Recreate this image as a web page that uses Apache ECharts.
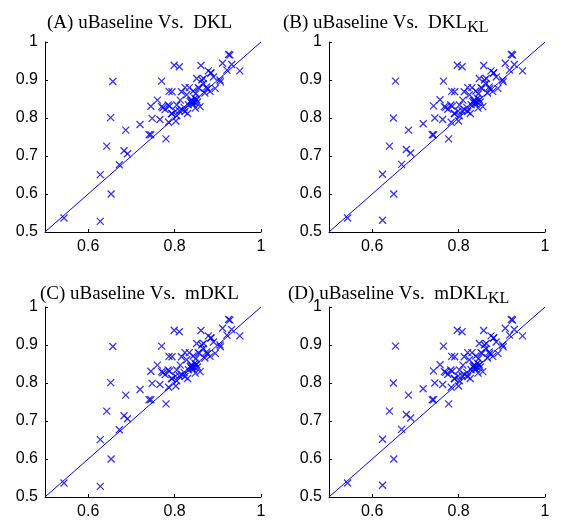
<!DOCTYPE html>
<html>
<head>
<meta charset="utf-8">
<script src="https://cdn.jsdelivr.net/npm/echarts@6/dist/echarts.min.js"></script>
<style>html,body{margin:0;padding:0;background:#fff}#c{width:566px;height:520px}</style>
</head>
<body>
<div id="c"></div>
<script>
// Panel titles
const titles = [
  {main: '(A) uBaseline Vs.  DKL', sub: ''},
  {main: '(B) uBaseline Vs.  DKL', sub: 'KL'},
  {main: '(C) uBaseline Vs.  mDKL', sub: ''},
  {main: '(D) uBaseline Vs.  mDKL', sub: 'KL'}
];
// Axis ticks
const xTicks = [0.6, 0.8, 1.0];
const yTicks = [0.5, 0.6, 0.7, 0.8, 0.9, 1.0];
// Identity line
const diagonal = [[0.5, 0.5], [1.0, 1.0]];

// Scatter values (x = uBaseline, y = compared method)
const pointsA = [
  [0.544,0.537],[0.628,0.528],[0.628,0.651],[0.653,0.600],[0.643,0.726],[0.652,0.801],[0.657,0.896],
  [0.672,0.677],[0.683,0.714],[0.691,0.706],[0.687,0.768],[0.720,0.783],[0.741,0.756],[0.745,0.756],
  [0.780,0.745],[0.748,0.799],[0.745,0.831],[0.760,0.847],[0.770,0.897],[0.766,0.796],[0.773,0.827],
  [0.778,0.822],[0.788,0.831],[0.786,0.789],[0.794,0.811],[0.803,0.792],[0.787,0.870],[0.794,0.869],
  [0.799,0.939],[0.811,0.935],[0.805,0.806],[0.811,0.819],[0.813,0.847],[0.816,0.869],[0.824,0.880],
  [0.834,0.880],[0.828,0.861],[0.805,0.834],[0.785,0.834],[0.770,0.830],[0.793,0.812],[0.802,0.818],
  [0.830,0.812],[0.824,0.817],[0.836,0.843],[0.840,0.839],[0.843,0.836],[0.838,0.846],[0.845,0.842],
  [0.832,0.835],[0.843,0.871],[0.847,0.852],[0.851,0.848],[0.859,0.830],[0.853,0.842],[0.848,0.826],
  [0.851,0.904],[0.863,0.900],[0.874,0.882],[0.857,0.878],[0.894,0.878],[0.905,0.900],[0.861,0.938],
  [0.878,0.924],[0.884,0.918],[0.911,0.944],[0.921,0.926],[0.932,0.941],[0.928,0.966],[0.925,0.967],
  [0.951,0.924],[0.870,0.866],[0.882,0.870],[0.822,0.828],[0.906,0.895],[0.890,0.908],[0.866,0.890],
  [0.875,0.877],[0.849,0.864],[0.855,0.880],[0.867,0.904],[0.884,0.919],[0.817,0.822],[0.841,0.845]
];
const pointsB = [
  [0.543,0.537],[0.624,0.531],[0.624,0.652],[0.650,0.600],[0.640,0.726],[0.649,0.800],[0.654,0.897],
  [0.668,0.678],[0.679,0.717],[0.689,0.708],[0.684,0.768],[0.718,0.785],[0.739,0.756],[0.742,0.756],
  [0.777,0.745],[0.745,0.800],[0.742,0.832],[0.757,0.848],[0.765,0.897],[0.763,0.796],[0.770,0.828],
  [0.775,0.823],[0.785,0.831],[0.783,0.789],[0.791,0.811],[0.800,0.792],[0.784,0.870],[0.791,0.869],
  [0.797,0.939],[0.808,0.935],[0.802,0.806],[0.808,0.819],[0.810,0.847],[0.813,0.869],[0.821,0.880],
  [0.831,0.880],[0.825,0.861],[0.802,0.834],[0.782,0.834],[0.767,0.830],[0.790,0.812],[0.799,0.818],
  [0.827,0.812],[0.821,0.817],[0.833,0.843],[0.837,0.839],[0.840,0.836],[0.835,0.846],[0.842,0.842],
  [0.829,0.835],[0.840,0.871],[0.844,0.852],[0.848,0.848],[0.856,0.830],[0.850,0.842],[0.845,0.826],
  [0.848,0.904],[0.860,0.900],[0.871,0.882],[0.854,0.878],[0.891,0.878],[0.902,0.900],[0.858,0.938],
  [0.875,0.924],[0.881,0.918],[0.908,0.944],[0.918,0.926],[0.929,0.941],[0.925,0.966],[0.922,0.967],
  [0.948,0.924],[0.867,0.866],[0.879,0.870],[0.819,0.828],[0.903,0.895],[0.887,0.908],[0.863,0.890],
  [0.872,0.877],[0.846,0.864],[0.852,0.880],[0.864,0.904],[0.881,0.919],[0.814,0.822],[0.838,0.845]
];
const pointsC = pointsA.map(p => p.slice());
const pointsD = pointsB.map(p => p.slice());
const panels = [pointsA, pointsB, pointsC, pointsD];

const grids = [
  {left: 45, top: 42, width: 216, height: 190},
  {left: 329, top: 42, width: 216, height: 190},
  {left: 45, top: 307, width: 216, height: 190},
  {left: 329, top: 307, width: 216, height: 190}
];
const titlePos = [
  {left: 42, top: 6}, {left: 278, top: 6}, {left: 35, top: 277}, {left: 283, top: 277}
];

const blue = '#0000ff';
const crossPath = 'path://M0,0L10,10M10,0L0,10';
const fmt = v => (Math.abs(v - 1) < 1e-9 ? '1' : (+v).toFixed(1));

const option = {
  animation: false,
  backgroundColor: '#fff',
  title: titles.map((t, i) => ({
    text: t.sub ? t.main + '{sub|' + t.sub + '}' : t.main,
    left: titlePos[i].left, top: titlePos[i].top,
    textStyle: {
      fontFamily: 'Liberation Serif', fontWeight: 'normal', fontSize: 19, color: '#000',
      lineHeight: 24,
      rich: {sub: {fontFamily: 'Liberation Serif', fontSize: 16, color: '#000', lineHeight: 24, padding: [10, 0, 0, 0]}}
    }
  })),
  grid: grids.map(g => Object.assign({containLabel: false}, g)),
  xAxis: grids.map((g, i) => ({
    gridIndex: i, type: 'value', min: 0.5, max: 1,
    axisLine: {show: true, onZero: false, lineStyle: {color: '#000', width: 1}},
    axisTick: {show: true, inside: true, length: 3, customValues: xTicks, lineStyle: {color: '#000'}},
    axisLabel: {customValues: xTicks, formatter: fmt, fontFamily: 'Liberation Sans', fontSize: 16, color: '#000', margin: 7},
    splitLine: {show: false}
  })),
  yAxis: grids.map((g, i) => ({
    gridIndex: i, type: 'value', min: 0.5, max: 1, interval: 0.1,
    axisLine: {show: true, onZero: false, lineStyle: {color: '#000', width: 1}},
    axisTick: {show: true, inside: true, length: 3, lineStyle: {color: '#000'}},
    axisLabel: {formatter: fmt, fontFamily: 'Liberation Sans', fontSize: 16, color: '#000', margin: 7},
    splitLine: {show: false}
  })),
  series: []
};
panels.forEach((pts, i) => {
  option.series.push({
    type: 'line', xAxisIndex: i, yAxisIndex: i, data: diagonal, symbol: 'none',
    lineStyle: {color: blue, width: 1}, silent: true
  });
  option.series.push({
    type: 'scatter', xAxisIndex: i, yAxisIndex: i, data: pts,
    symbol: crossPath, symbolSize: 7,
    itemStyle: {color: 'none', borderColor: blue, borderWidth: 1.3}
  });
});
const chart = echarts.init(document.getElementById('c'), null, {renderer: 'canvas'});
chart.setOption(option);
</script>
</body>
</html>
